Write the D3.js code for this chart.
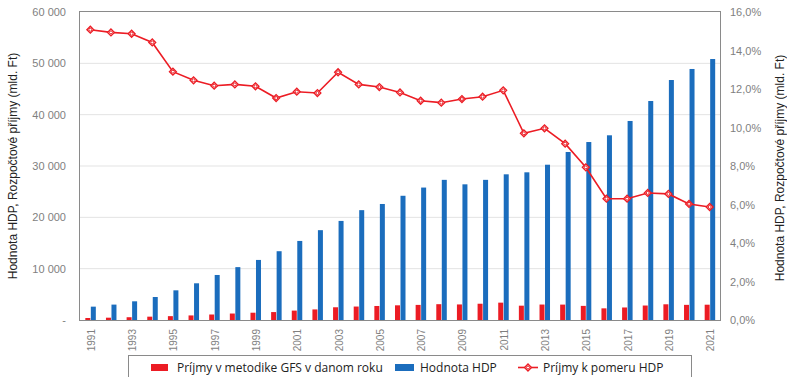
<!DOCTYPE html>
<html>
<head>
<meta charset="utf-8">
<script src="https://cdn.jsdelivr.net/npm/d3@7"></script>
<style>
  html, body { margin: 0; padding: 0; background: #fff; }
  svg { display: block; }
</style>
</head>
<body>
<svg id="chart" width="787" height="377"></svg>
<script>
// Years on the category axis
const years = d3.range(1991, 2022);

// Budget revenue under GFS methodology (bn Ft)
const revenue = [390, 450, 540, 650, 750, 890, 1070, 1260, 1420, 1545,
                 1830, 2060, 2480, 2620, 2730, 2860, 2940, 3080, 3030, 3170,
                 3380, 2790, 3010, 3000, 2750, 2270, 2440, 2820, 3060, 2950, 2980];

// Nominal GDP (bn Ft)
const gdp = [2600, 3000, 3640, 4480, 5780, 7150, 8770, 10300, 11700, 13400,
             15400, 17500, 19300, 21400, 22600, 24200, 25800, 27300, 26430, 27300,
             28380, 28770, 30250, 32730, 34670, 35980, 38770, 42660, 46750, 48900, 50840];

// Revenue as a share of GDP (%)
const ratio = [15.08, 14.94, 14.87, 14.42, 12.90, 12.45, 12.17, 12.24, 12.14, 11.53,
               11.86, 11.79, 12.87, 12.24, 12.10, 11.82, 11.39, 11.29, 11.48, 11.60,
               11.93, 9.70, 9.96, 9.16, 7.93, 6.30, 6.30, 6.60, 6.55, 6.03, 5.87];

const leftTicks = [0, 10000, 20000, 30000, 40000, 50000, 60000];
const rightTicks = [0, 2, 4, 6, 8, 10, 12, 14, 16];

const seriesNames = ["Príjmy v metodike GFS v danom roku", "Hodnota HDP", "Príjmy k pomeru HDP"];
const axisTitle = "Hodnota HDP, Rozpočtové příjmy (mld. Ft)";

const RED = "#ec1c24";
const BLUE = "#1b6dbd";
const GREY_TXT = "#7f7f7f";

const svg = d3.select("#chart");
const m = { left: 80, right: 720, top: 12, bottom: 320 };

const x = d3.scaleBand().domain(years).range([m.left, m.right]).padding(0);
const yL = d3.scaleLinear().domain([0, 60000]).range([m.bottom, m.top]);
const yR = d3.scaleLinear().domain([0, 16]).range([m.bottom, m.top]);
const barW = 5;

// Horizontal gridlines
svg.append("g")
  .selectAll("line")
  .data(leftTicks.filter(d => d > 0 && d < 60000))
  .join("line")
  .attr("x1", m.left).attr("x2", m.right)
  .attr("y1", d => yL(d)).attr("y2", d => yL(d))
  .attr("stroke", "#e3e3e3").attr("stroke-width", 1);

// Revenue bars
svg.append("g")
  .selectAll("rect")
  .data(years)
  .join("rect")
  .attr("x", (d) => x(d) + x.bandwidth() / 2 - barW)
  .attr("y", (d, i) => yL(revenue[i]))
  .attr("width", barW)
  .attr("height", (d, i) => yL(0) - yL(revenue[i]))
  .attr("fill", RED);

// GDP bars
svg.append("g")
  .selectAll("rect")
  .data(years)
  .join("rect")
  .attr("x", (d) => x(d) + x.bandwidth() / 2 + 0.5)
  .attr("y", (d, i) => yL(gdp[i]))
  .attr("width", barW)
  .attr("height", (d, i) => yL(0) - yL(gdp[i]))
  .attr("fill", BLUE);

// Plot frame
svg.append("rect")
  .attr("x", m.left - 0.5).attr("y", m.top - 0.5)
  .attr("width", m.right - m.left + 1).attr("height", m.bottom - m.top + 1)
  .attr("fill", "none").attr("stroke", "#8a8a8a").attr("stroke-width", 1);

// Ratio line with markers
const cx = d => x(d) + x.bandwidth() / 2;
const line = d3.line().x((d, i) => cx(years[i])).y(d => yR(d));
svg.append("path")
  .datum(ratio)
  .attr("d", line)
  .attr("fill", "none").attr("stroke", RED).attr("stroke-width", 1.6);

// Square turned 45° so the marker is an even diamond
const diamond = d3.symbol().type(d3.symbolSquare).size(24);
function marker(g) {
  g.append("path").attr("d", diamond).attr("transform", "rotate(45)")
    .attr("fill", "#fff").attr("stroke", RED).attr("stroke-width", 1.3);
  g.append("circle").attr("r", 1.5).attr("fill", "#fff").attr("stroke", RED).attr("stroke-width", 1);
}
svg.append("g")
  .selectAll("g")
  .data(ratio)
  .join("g")
  .attr("transform", (d, i) => `translate(${cx(years[i])},${yR(d)})`)
  .call(marker);

// Left axis (values in bn Ft)
const fmtL = d => d === 0 ? "-" : d3.format(",")(d).replace(",", " ");
const axL = svg.append("g")
  .attr("transform", `translate(${m.left},0)`)
  .call(d3.axisLeft(yL).tickValues(leftTicks).tickFormat(fmtL).tickSize(0).tickPadding(14));
axL.select(".domain").remove();
axL.selectAll("text")
  .attr("font-family", "Liberation Sans, Arial, sans-serif")
  .attr("font-size", 11).attr("fill", GREY_TXT);

// Right axis (percent of GDP)
const fmtR = d => d.toFixed(1).replace(".", ",") + "%";
const axR = svg.append("g")
  .attr("transform", `translate(${m.right},0)`)
  .call(d3.axisRight(yR).tickValues(rightTicks).tickFormat(fmtR).tickSize(0).tickPadding(10));
axR.select(".domain").remove();
axR.selectAll("text")
  .attr("font-family", "Liberation Sans, Arial, sans-serif")
  .attr("font-size", 11).attr("fill", GREY_TXT);

// Year labels (every other year), rotated
const axX = svg.append("g")
  .attr("transform", `translate(0,${m.bottom})`)
  .call(d3.axisBottom(x).tickValues(years.filter(d => d % 2 === 1)).tickSize(0).tickPadding(0));
axX.select(".domain").remove();
axX.selectAll("text")
  .attr("font-family", "Liberation Sans, Arial, sans-serif")
  .attr("font-size", 10).attr("fill", GREY_TXT)
  .attr("text-anchor", "end")
  .attr("dy", null)
  .attr("transform", "translate(4.5,9) rotate(-90)");

// Axis titles
svg.append("text")
  .attr("transform", "translate(17,166) rotate(-90)")
  .attr("text-anchor", "middle")
  .attr("font-family", "Liberation Sans, Arial, sans-serif")
  .attr("font-size", 12).attr("fill", "#222")
  .text(axisTitle);
svg.append("text")
  .attr("transform", "translate(784,168) rotate(-90)")
  .attr("text-anchor", "middle")
  .attr("font-family", "Liberation Sans, Arial, sans-serif")
  .attr("font-size", 12).attr("fill", "#222")
  .text(axisTitle);

// Legend
const lg = svg.append("g");
lg.append("rect")
  .attr("x", 128.5).attr("y", 355.5).attr("width", 563).attr("height", 30)
  .attr("fill", "#fff").attr("stroke", "#8a8a8a");
const legendFont = "Open Sans, Noto Sans, sans-serif";
lg.append("rect").attr("x", 151).attr("y", 364).attr("width", 17).attr("height", 7).attr("fill", RED);
lg.append("text").attr("x", 177).attr("y", 371.5).attr("font-family", legendFont).attr("font-size", 12)
  .attr("fill", "#222").text(seriesNames[0]);
lg.append("rect").attr("x", 395).attr("y", 364).attr("width", 19).attr("height", 7).attr("fill", BLUE);
lg.append("text").attr("x", 420).attr("y", 371.5).attr("font-family", legendFont).attr("font-size", 12)
  .attr("fill", "#222").text(seriesNames[1]);
lg.append("line").attr("x1", 518).attr("x2", 538).attr("y1", 367.5).attr("y2", 367.5)
  .attr("stroke", RED).attr("stroke-width", 1.6);
lg.append("g").attr("transform", "translate(528,367.5)").call(marker);
lg.append("text").attr("x", 543).attr("y", 371.5).attr("font-family", legendFont).attr("font-size", 12)
  .attr("fill", "#222").text(seriesNames[2]);
</script>
</body>
</html>
